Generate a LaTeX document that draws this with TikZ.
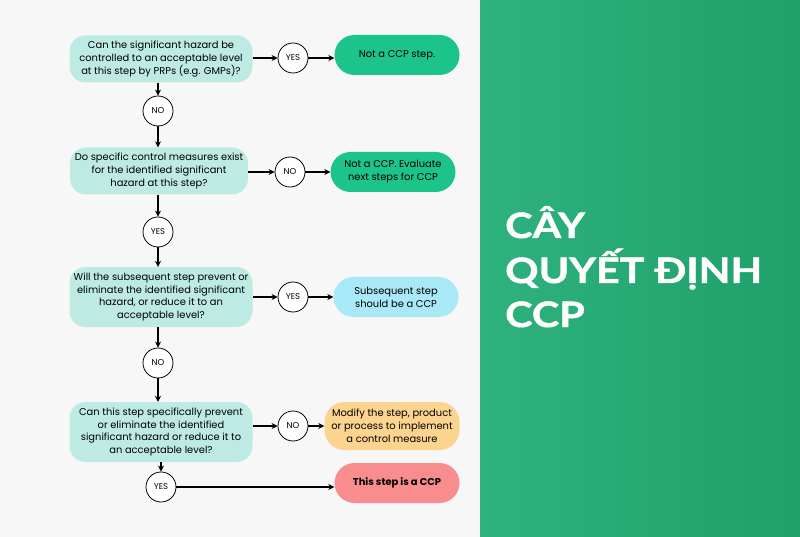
\documentclass[tikz,border=0pt]{standalone}
\usepackage{fontspec}
\setmainfont{Poppins}
\newfontfamily\titlefont{Lato}[FakeStretch=1.18,BoldFeatures={FakeBold=1.2}]
\usetikzlibrary{arrows.meta}
\definecolor{leftgray}{HTML}{F7F7F7}
\definecolor{qteal}{HTML}{BDEBE3}
\definecolor{okgreen}{HTML}{1DC48A}
\definecolor{nextcyan}{HTML}{A9E8F7}
\definecolor{fixorange}{HTML}{FCD38F}
\definecolor{ccppink}{HTML}{F98C8C}
\definecolor{bandtop}{HTML}{2EB27E}
\definecolor{bandbot}{HTML}{20A06A}
\begin{document}
\begin{tikzpicture}[x=1pt,y=-1pt,
  question/.style={fill=qteal,rounded corners=16pt,align=center,minimum width=183pt,
    minimum height=47pt,inner xsep=2pt,inner ysep=4pt,font=\fontsize{9.9}{12.8}\selectfont},
  answer/.style={fill=#1,rounded corners=20pt,align=center,minimum width=125pt,
    minimum height=40pt,inner xsep=2pt,inner ysep=3pt,font=\fontsize{9.9}{12.8}\selectfont},
  choice/.style={circle,draw=black,line width=0.8pt,fill=white,minimum size=30pt,
    inner sep=0pt,font=\fontsize{8.5}{10}\selectfont},
  flow/.style={-{Stealth[length=6pt,width=6pt]},line width=1.4pt},
  title/.style={anchor=base west,inner sep=0pt,text=white,font=\titlefont\bfseries\fontsize{35}{40}\selectfont}]
\useasboundingbox (0,0) rectangle (800,537);
\fill[leftgray] (0,0) rectangle (480,537);
\shade[left color=bandtop,right color=bandbot] (480,0) rectangle (800,537);
% questions down the left
\node[question] (q1) at (161,59) {Can the significant hazard be\\controlled to an acceptable level\\at this step by PRPs (e.g. GMPs)?};
\node[question,minimum width=178pt] (q2) at (159,171) {Do specific control measures exist\\for the identified significant\\hazard at this step?};
\node[question,minimum height=60pt] (q3) at (161,297) {Will the subsequent step prevent or\\eliminate the identified significant\\hazard, or reduce it to an\\acceptable level?};
\node[question,minimum height=60pt] (q4) at (161,432) {Can this step specifically prevent\\or eliminate the identified\\significant hazard or reduce it to\\an acceptable level?};
% answers
\node[choice] (yes1) at (293,58) {YES};
\node[choice] (no1) at (158,111) {NO};
\node[choice] (no2) at (290,172) {NO};
\node[choice] (yes2) at (158,232) {YES};
\node[choice] (yes3) at (293,297) {YES};
\node[choice] (no3) at (158,363) {NO};
\node[choice] (no4) at (293,426) {NO};
\node[choice] (yes4) at (161,487) {YES};
% outcomes on the right
\node[answer=okgreen] (notccp) at (397,55) {Not a CCP step.};
\node[answer=okgreen] (evaluate) at (393,172) {Not a CCP. Evaluate\\next steps for CCP};
\node[answer=nextcyan] (subsequent) at (396,297) {Subsequent step\\should be a CCP};
\node[answer=fixorange,minimum width=135pt,minimum height=48pt] (modify) at (392,426) {Modify the step, product\\or process to implement\\a control measure};
\node[answer=ccppink,font=\fontsize{9.9}{12.8}\selectfont\bfseries] (isccp) at (397,483) {This step is a CCP};
\draw[flow] (q1.east |- yes1)--(yes1);
\draw[flow] (yes1)--(yes1 -| notccp.west);
\draw[flow] (q1.south -| no1)--(no1);
\draw[flow] (no1)--(q2.north -| no1);
\draw[flow] (q2.east |- no2)--(no2);
\draw[flow] (no2)--(no2 -| evaluate.west);
\draw[flow] (q2.south -| yes2)--(yes2);
\draw[flow] (yes2)--(q3.north -| yes2);
\draw[flow] (q3.east |- yes3)--(yes3);
\draw[flow] (yes3)--(yes3 -| subsequent.west);
\draw[flow] (q3.south -| no3)--(no3);
\draw[flow] (no3)--(q4.north -| no3);
\draw[flow] (q4.east |- no4)--(no4);
\draw[flow] (no4)--(no4 -| modify.west);
\draw[flow] (q4.south -| yes4)--(yes4);
\draw[flow] (yes4)--(yes4 -| isccp.west);
% title on the green band
\node[title] (title1) at (505,238) {CÂY};
\node[title] (title2) at (505,283) {QUYẾT ĐỊNH};
\node[title] (title3) at (505,327) {CCP};
\end{tikzpicture}
\end{document}
